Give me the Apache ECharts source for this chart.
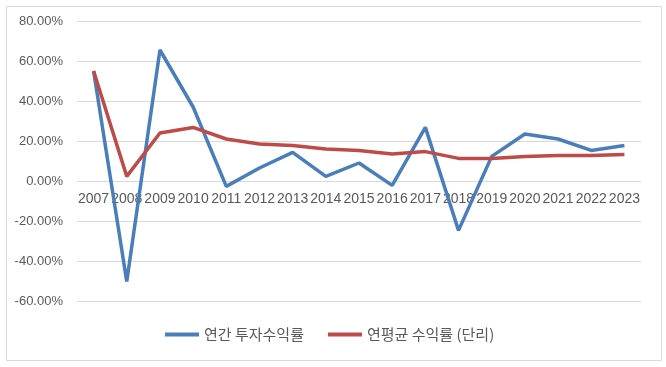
<!DOCTYPE html>
<html>
<head>
<meta charset="utf-8">
<script src="https://cdn.jsdelivr.net/npm/echarts@6/dist/echarts.min.js"></script>
<style>html,body{margin:0;padding:0;background:#fff}#c{width:666px;height:367px}</style>
</head>
<body>
<div id="c"></div>
<script>
const categories = ['2007','2008','2009','2010','2011','2012','2013','2014','2015','2016','2017','2018','2019','2020','2021','2022','2023'];
const annualReturn = [55.0, -50.2, 65.5, 37.0, -2.7, 6.5, 14.3, 2.3, 9.0, -2.2, 26.8, -24.7, 12.3, 23.5, 21.0, 15.3, 17.8];
const avgReturn = [55.0, 2.3, 24.0, 26.8, 21.0, 18.5, 17.8, 16.0, 15.3, 13.5, 14.7, 11.3, 11.3, 12.3, 12.8, 12.8, 13.3];
const seriesNames = ['연간 투자수익률', '연평균 수익률 (단리)'];

const chart = echarts.init(document.getElementById('c'));
chart.setOption({
  animation: false,
  graphic: [{
    type: 'rect', left: 4, top: 4,
    shape: { width: 655, height: 354 },
    style: { fill: 'none', stroke: '#d9d9d9', lineWidth: 1 }
  }],
  grid: { left: 77, right: 25, top: 21, bottom: 66 },
  legend: {
    left: 160, top: 322,
    itemWidth: 34, itemHeight: 4, itemGap: 24, icon: 'rect',
    textStyle: { fontFamily: 'Noto Sans CJK KR', fontSize: 15, color: '#595959' },
    data: seriesNames
  },
  xAxis: {
    type: 'category', data: categories, boundaryGap: true,
    offset: -120,
    axisLine: { show: false, onZero: false },
    axisTick: { show: false },
    axisLabel: { margin: 11, interval: 0, fontFamily: 'Liberation Sans', fontSize: 14, color: '#595959' }
  },
  yAxis: {
    type: 'value', min: -60, max: 80, interval: 20,
    axisLine: { show: false }, axisTick: { show: false },
    splitLine: { lineStyle: { color: '#d9d9d9' } },
    axisLabel: { margin: 14, fontFamily: 'Liberation Sans', fontSize: 13, color: '#595959',
      formatter: v => v.toFixed(2) + '%' }
  },
  series: [
    { name: seriesNames[0], type: 'line', data: annualReturn, symbol: 'none',
      lineStyle: { width: 3.5, color: '#4a7ebb' }, itemStyle: { color: '#4a7ebb' } },
    { name: seriesNames[1], type: 'line', data: avgReturn, symbol: 'none',
      lineStyle: { width: 3.5, color: '#be4b48' }, itemStyle: { color: '#be4b48' } }
  ]
});
</script>
</body>
</html>
